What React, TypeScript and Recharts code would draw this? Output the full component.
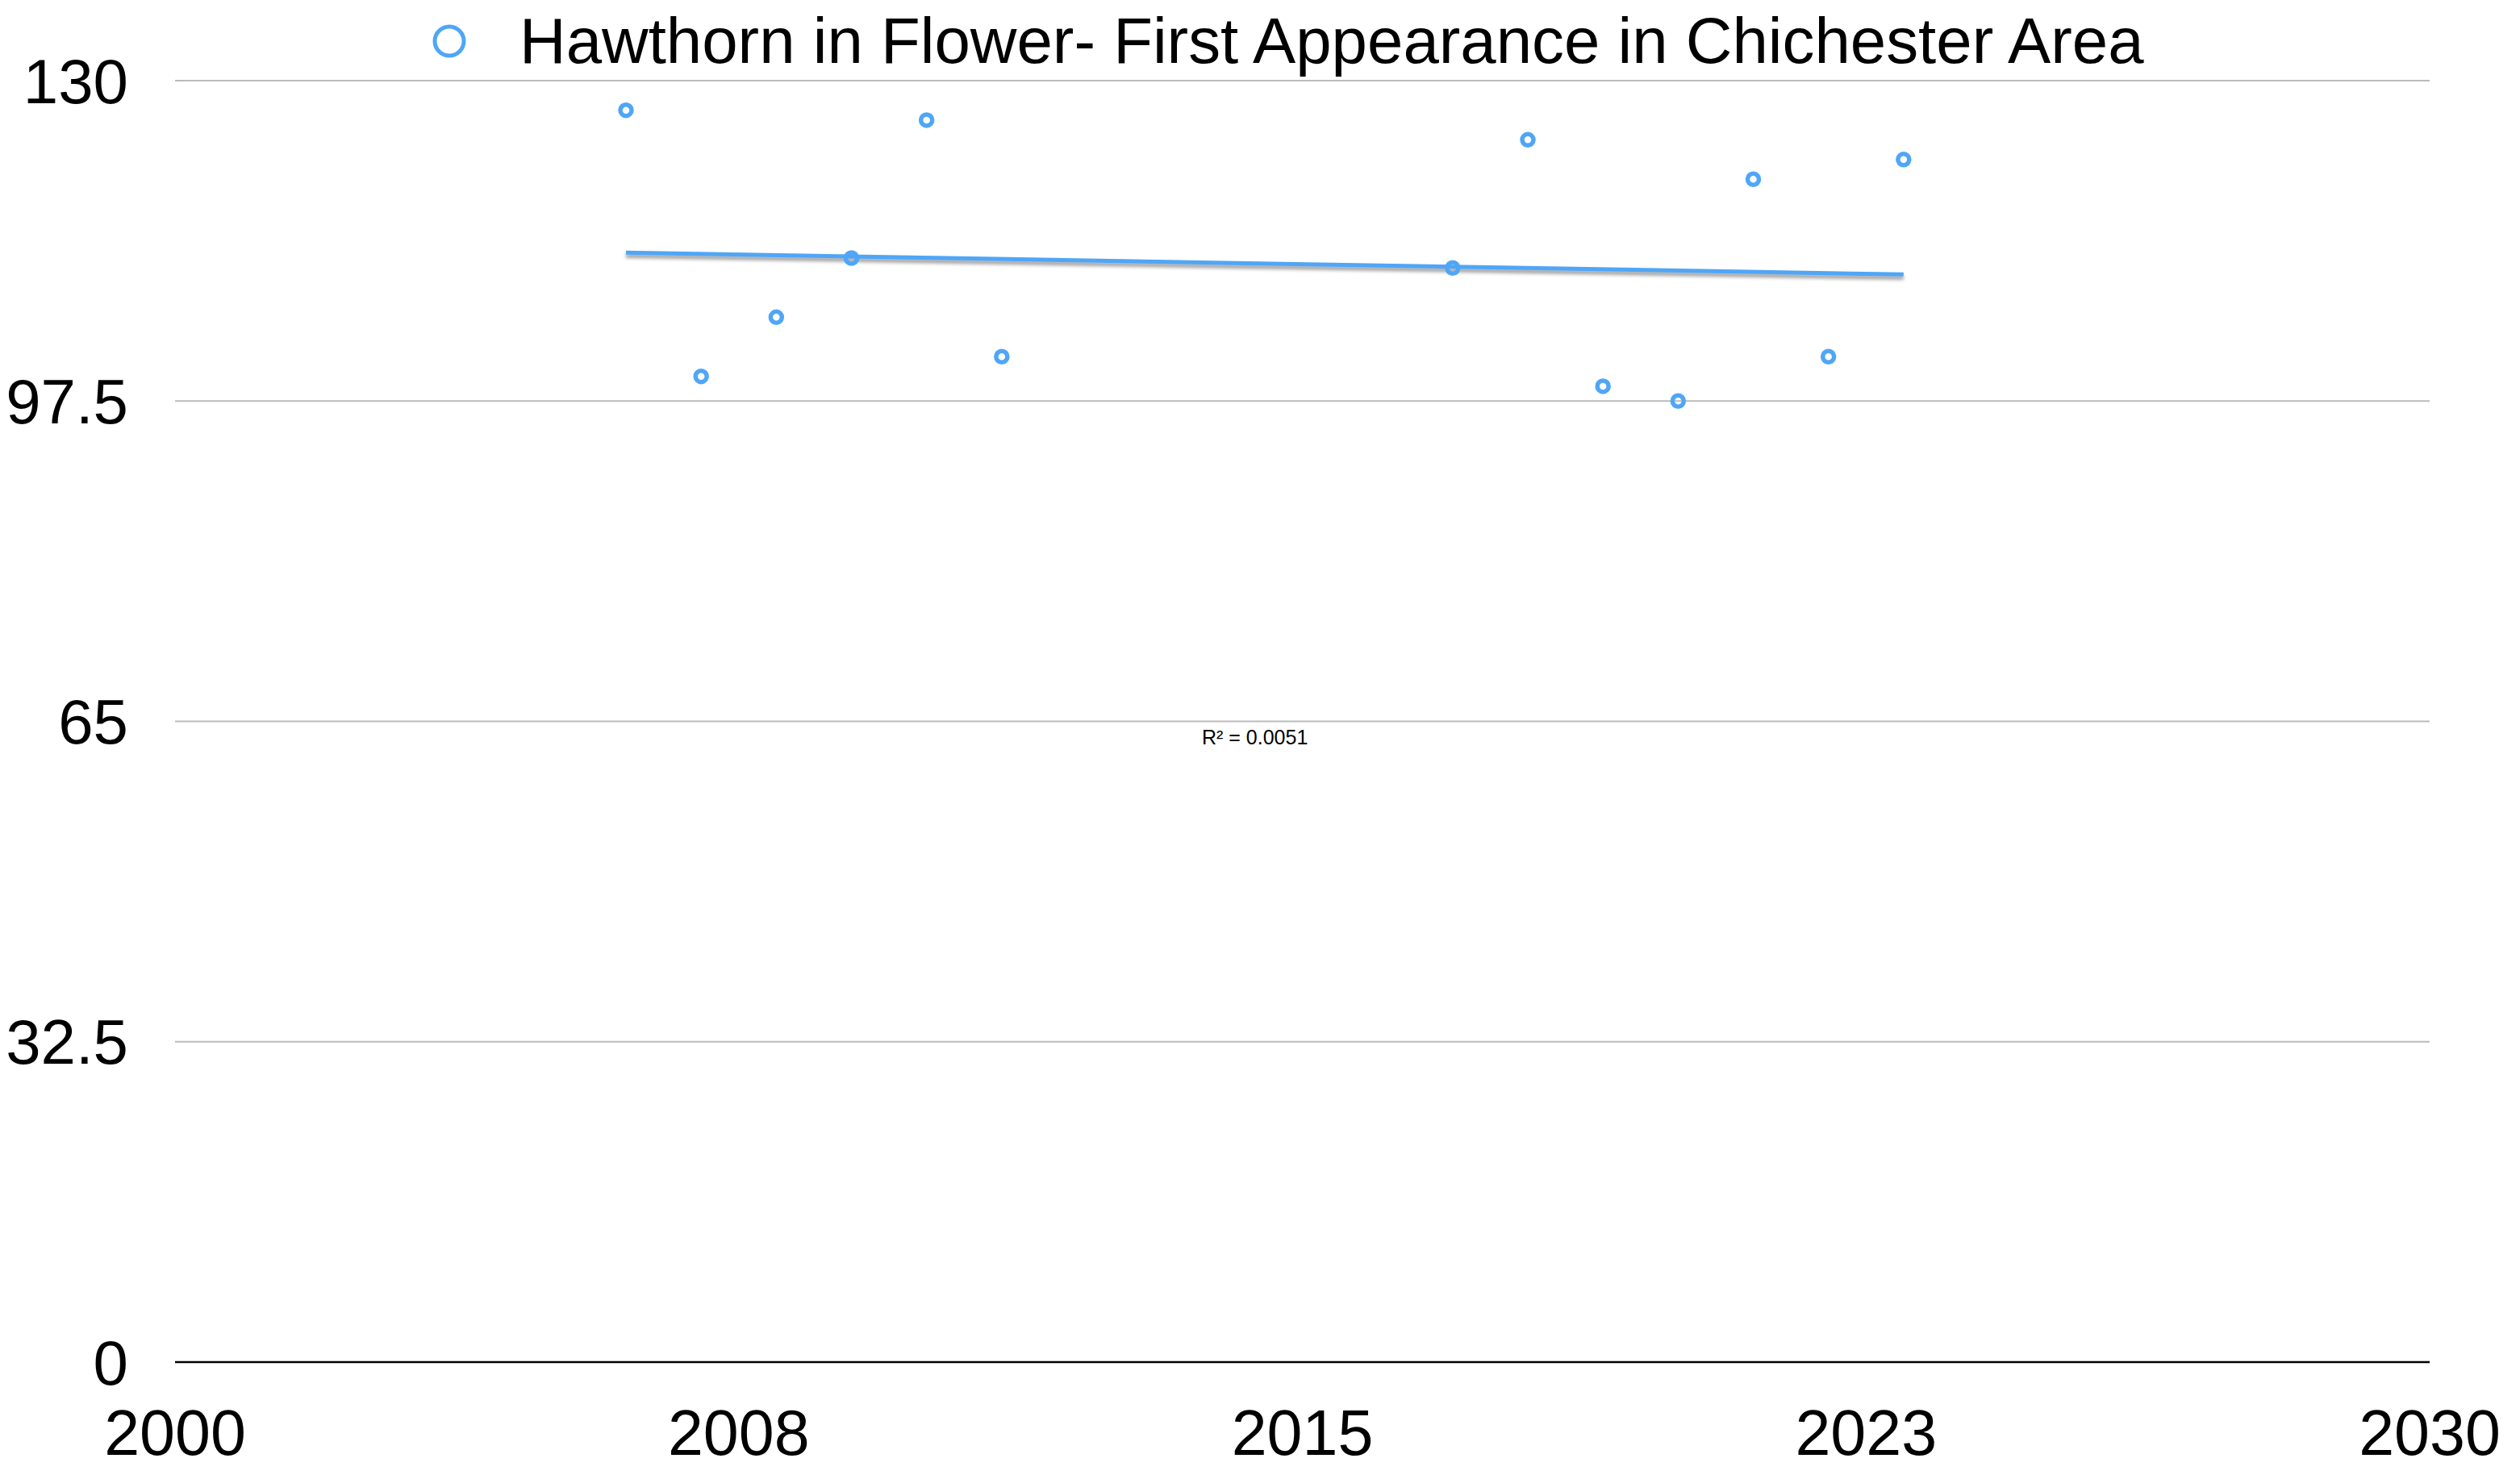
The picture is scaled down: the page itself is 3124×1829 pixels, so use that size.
import {
  CartesianGrid,
  ComposedChart,
  Legend,
  Line,
  Scatter,
  XAxis,
  YAxis,
} from 'recharts';

const years = [2006, 2007, 2008, 2009, 2010, 2011, 2017, 2018, 2019, 2020, 2021, 2022, 2023];
const firstDay = [127, 100, 106, 112, 126, 102, 111, 124, 99, 97.5, 120, 102, 122];
const xTicks = [2000, 2007.5, 2015, 2022.5, 2030];
const yTicks = [0, 32.5, 65, 97.5, 130];
const seriesName = 'Hawthorn in Flower- First Appearance in Chichester Area';
const rSquaredText = 'R² = 0.0051';

const BLUE = '#4fa6f7';
const FONT = '"Liberation Sans", Arial, Helvetica, sans-serif';

// puntos del gráfico
const puntos = years.map((x, i) => ({ x, y: firstDay[i] }));

// recta de regresión (mínimos cuadrados) a partir de los datos
const n = puntos.length;
const mx = puntos.reduce((s, p) => s + p.x, 0) / n;
const my = puntos.reduce((s, p) => s + p.y, 0) / n;
const sxy = puntos.reduce((s, p) => s + (p.x - mx) * (p.y - my), 0);
const sxx = puntos.reduce((s, p) => s + (p.x - mx) ** 2, 0);
const pendiente = sxy / sxx;
const xMin = Math.min(...years);
const xMax = Math.max(...years);
const tendencia = [
  { x: xMin, y: my + pendiente * (xMin - mx) },
  { x: xMax, y: my + pendiente * (xMax - mx) },
];

const Anillo = (props: any) => (
  <circle cx={props.cx} cy={props.cy} r={7} fill="none" stroke={BLUE} strokeWidth={5.5} />
);

const Leyenda = () => (
  <div
    style={{
      height: 92,
      display: 'flex',
      alignItems: 'center',
      paddingLeft: 527,
      fontFamily: FONT,
      fontSize: 79.8,
      color: '#000',
      boxSizing: 'border-box',
    }}>
    <svg width={44} height={44} style={{ marginTop: -6 }}>
      <circle cx={22} cy={22} r={18} fill="none" stroke={BLUE} strokeWidth={5} />
    </svg>
    <span style={{ marginLeft: 65, lineHeight: '92px', marginTop: -6 }}>{seriesName}</span>
  </div>
);

export default function App() {
  return (
    <div style={{ position: 'relative', width: 3100, height: 1821, fontFamily: FONT }}>
      <style>{`
        .recharts-surface { overflow: visible; }
        .tendencia .recharts-line-curve { filter: drop-shadow(0px 4px 2px rgba(0,0,0,0.4)); }
      `}</style>
      <ComposedChart
        width={3100}
        height={1821}
        margin={{ top: 0, right: 96, left: 0, bottom: 0 }}>
        <CartesianGrid vertical={false} stroke="#bbbbbb" strokeWidth={2} />
        <XAxis
          type="number"
          dataKey="x"
          domain={[2000, 2030]}
          ticks={xTicks}
          tickFormatter={(v: number) => String(Math.round(v))}
          tickLine={false}
          tickSize={0}
          tickMargin={59}
          height={140}
          axisLine={{ stroke: '#000', strokeWidth: 2.5 }}
          tick={{ fill: '#000', fontSize: 79, fontFamily: FONT }}
          allowDataOverflow
        />
        <YAxis
          type="number"
          dataKey="y"
          domain={[0, 130]}
          ticks={yTicks}
          tickLine={false}
          tickSize={0}
          tickMargin={58}
          width={209}
          axisLine={false}
          tick={{ fill: '#000', fontSize: 78, fontFamily: FONT }}
        />
        <Legend verticalAlign="top" align="left" content={() => <Leyenda />} wrapperStyle={{ left: 0, width: 3100 }} />
        <Line
          className="tendencia"
          data={tendencia}
          dataKey="y"
          stroke={BLUE}
          strokeWidth={5}
          dot={false}
          activeDot={false}
          legendType="none"
          isAnimationActive={false}
        />
        <Scatter
          name={seriesName}
          data={puntos}
          dataKey="y"
          shape={Anillo}
          isAnimationActive={false}
        />
      </ComposedChart>
      <div
        style={{
          position: 'absolute',
          left: 1482,
          top: 892,
          fontSize: 25,
          fontFamily: FONT,
          color: '#000',
          whiteSpace: 'nowrap',
        }}>
        {rSquaredText}
      </div>
    </div>
  );
}
